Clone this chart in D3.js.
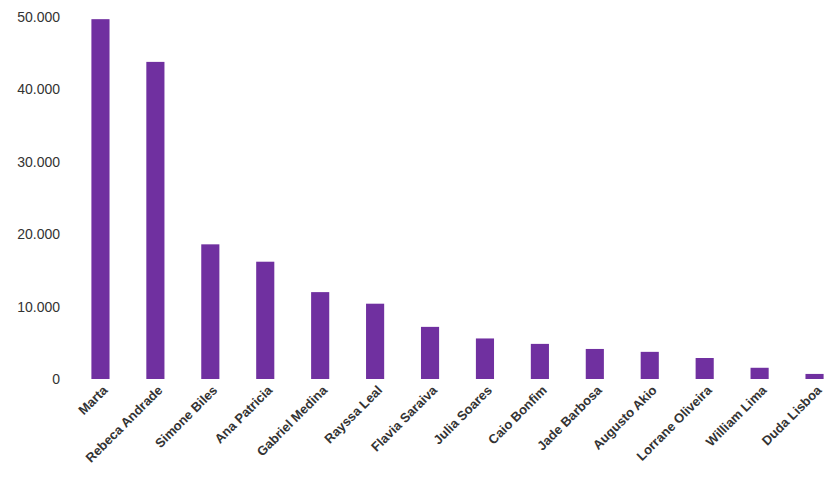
<!DOCTYPE html>
<html><head><meta charset="utf-8">
<script src="https://cdn.jsdelivr.net/npm/d3@7"></script>
<style>body{margin:0;background:#fff}</style></head>
<body><svg id="c" width="832" height="502"></svg>
<script>
const categories = ["Marta","Rebeca Andrade","Simone Biles","Ana Patricia","Gabriel Medina","Rayssa Leal","Flavia Saraiva","Julia Soares","Caio Bonfim","Jade Barbosa","Augusto Akio","Lorrane Oliveira","William Lima","Duda Lisboa"];
const values = [49700,43800,18600,16200,12000,10400,7200,5600,4850,4150,3750,2900,1550,700];
const yTicks = [0,10000,20000,30000,40000,50000];
const yTickLabels = ["0","10.000","20.000","30.000","40.000","50.000"];

const svg = d3.select("#c");
const x = d3.scaleBand().domain(categories).range([73,842]).paddingInner(0.67).paddingOuter(0.335);
const y = d3.scaleLinear().domain([0,50000]).range([379,17]);

svg.selectAll("rect").data(values).join("rect")
  .attr("x",(d,i)=>x(categories[i])).attr("width",x.bandwidth())
  .attr("y",d=>y(d)).attr("height",d=>y(0)-y(d)).attr("fill","#7030A0");

const ya = svg.append("g").attr("transform","translate(66,0)")
  .call(d3.axisLeft(y).tickValues(yTicks).tickFormat((d,i)=>yTickLabels[i]).tickSize(0).tickPadding(6));
ya.select(".domain").remove();
ya.selectAll("text").attr("font-family","Liberation Sans, Arial, sans-serif").attr("font-size",14).attr("fill","#333");

const xa = svg.append("g").attr("transform","translate(0,386)")
  .call(d3.axisBottom(x).tickSize(0).tickPadding(0));
xa.select(".domain").remove();
xa.selectAll("text").attr("font-family","Liberation Sans, Arial, sans-serif").attr("font-size",13)
  .attr("font-weight","bold").attr("fill","#333")
  .attr("text-anchor","end").attr("dy","0.7em").attr("transform","rotate(-45) translate(2,0)");
</script></body></html>
